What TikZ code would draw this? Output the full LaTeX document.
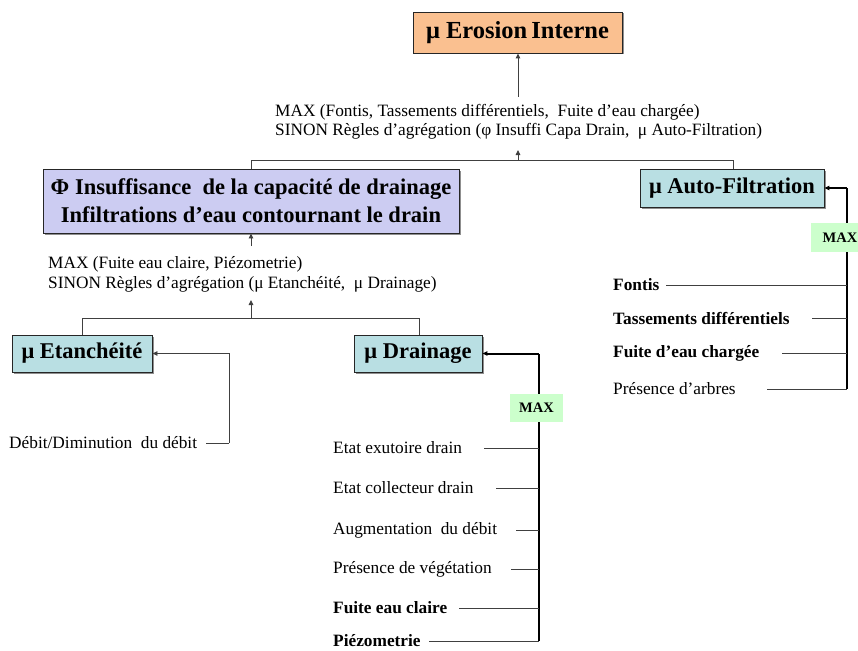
\documentclass[tikz,border=0pt]{standalone}
\usepackage{fontspec}
\setmainfont{Liberation Serif}
\usetikzlibrary{arrows.meta,shadows}
\definecolor{peach}{HTML}{FAC090}
\definecolor{lavender}{HTML}{CCCCF2}
\definecolor{aqua}{HTML}{B9DFE3}
\definecolor{mint}{HTML}{CCFFCC}
\definecolor{linegray}{HTML}{404040}
\tikzset{
  boxnode/.style={draw=black!85, line width=0.9pt, inner sep=0pt, align=center,
    drop shadow={shadow xshift=1.5pt, shadow yshift=-1.5pt, fill=black!55, opacity=0.8}},
  bigfont/.style={font=\fontsize{22.5}{28}\selectfont\bfseries},
  txt/.style={anchor=west, inner sep=0pt, font=\fontsize{17.3}{19.5}\selectfont, align=left},
  btxt/.style={anchor=west, inner sep=0pt, font=\fontsize{17.3}{19.5}\selectfont\bfseries},
  maxbox/.style={fill=mint, inner sep=0pt, font=\fontsize{14.5}{16}\selectfont\bfseries},
  thin/.style={draw=linegray, line width=0.9pt},
  thick/.style={draw=black, line width=2.4pt},
  arr/.style={-{Triangle[length=5pt,width=4.5pt]}},
}
\begin{document}
\begin{tikzpicture}[x=1pt,y=-1pt]
\useasboundingbox (0,0) rectangle (858,650);
\clip (0,0) rectangle (858,650);
\fill[white] (0,0) rectangle (858,650);

% boxes
\node[boxnode, fill=peach, minimum width=209pt, minimum height=41pt,
  font=\fontsize{24.5}{28}\selectfont\bfseries] (ero) at (517.5,32.5) {μ Erosion\,Interne};
\node[boxnode, bigfont, fill=lavender, minimum width=416pt, minimum height=64pt] (phi) at (251,201)
  {Φ Insuffisance\ \ de la capacité de drainage\\Infiltrations d’eau contournant le drain};
\node[boxnode, bigfont, fill=aqua, minimum width=184pt, minimum height=38pt] (auto) at (732,188) {μ Auto-Filtration};
\node[boxnode, bigfont, fill=aqua, minimum width=140pt, minimum height=37pt] (etan) at (82,353.5) {μ Etanchéité};
\node[boxnode, bigfont, fill=aqua, minimum width=128pt, minimum height=37pt] (drain) at (418,353.5) {μ Drainage};

% aggregation texts
\node[txt] (agg1) at (275,122) {MAX (Fontis, Tassements différentiels,\ \ Fuite d’eau chargée)\\SINON Règles d’agrégation (φ Insuffi Capa Drain,\ \ μ Auto-Filtration)};
\node[txt] (agg2) at (48,274.5) {MAX (Fuite eau claire, Piézometrie)\\SINON Règles d’agrégation (μ Etanchéité,\ \ μ Drainage)};

% top-level connectors
\coordinate (a1) at (518,97);
\draw[thin,arr] (a1) -- (ero.south -| a1);
\coordinate (j1) at (518,160);
\coordinate (j1t) at (518,150);
\draw[thin,arr] (j1) -- (j1t);
\coordinate (l1) at (251,160);
\coordinate (r1) at (733,160);
\draw[thin] (phi.north -| l1) -- (l1) -- (r1) -- (auto.north -| r1);

% second-level connectors
\coordinate (a2) at (251,246);
\draw[thin,arr] (a2) -- (phi.south);
\coordinate (j2) at (251,318);
\coordinate (j2t) at (251,300);
\draw[thin,arr] (j2) -- (j2t);
\coordinate (l2) at (82,318);
\coordinate (r2) at (419,318);
\draw[thin] (etan.north -| l2) -- (l2) -- (r2) -- (drain.north -| r2);

% Etancheite input
\node[txt] (debit) at (9,443) {Débit/Diminution\ \ du débit};
\coordinate (ds) at (206,443);
\coordinate (ec) at (229,443);
\coordinate (ec2) at (229,353.5);
\draw[thin] (ds) -- (ec);
\draw[thin,arr] (ec) -- (ec2) -- (etan.east);

% Auto-filtration inputs
\coordinate (av) at (847,188);
\coordinate (avb) at (847,389);
\draw[thick] (avb) -- (av);
\draw[thick,line width=2pt,arr] (av) -- (auto.east);
\node[maxbox, minimum width=58pt, minimum height=29pt] (max1) at (840,237.5) {MAX};
\node[btxt] (fontis) at (613,285) {Fontis};
\node[btxt] (tass) at (613,318) {Tassements différentiels};
\node[btxt] (fuite) at (613,353) {Fuite d’eau chargée};
\node[txt] (arbres) at (613,389) {Présence d’arbres};
\coordinate (f1) at (666,285);
\coordinate (f2) at (812,318);
\coordinate (f3) at (782,353);
\coordinate (f4) at (767,389);
\draw[thin] (f1) -- (f1 -| av);
\draw[thin] (f2) -- (f2 -| av);
\draw[thin] (f3) -- (f3 -| av);
\draw[thin] (f4) -- (f4 -| av);

% Drainage inputs
\coordinate (dv) at (539,353.5);
\coordinate (dm) at (539,569);
\coordinate (db) at (539,641);
\draw[thick] (dm) -- (dv);
\draw[thin,line width=1.4pt,draw=black] (db) -- (dm);
\draw[thick,line width=2pt,arr] (dv) -- (drain.east);
\node[maxbox, minimum width=53pt, minimum height=28pt] (max2) at (536.5,408) {MAX};
\node[txt] (d1) at (333,448) {Etat exutoire drain};
\node[txt] (d2) at (333,488) {Etat collecteur drain};
\node[txt] (d3) at (333,530) {Augmentation\ \ du débit};
\node[txt] (d4) at (333,569) {Présence de végétation};
\node[btxt] (d5) at (333,608) {Fuite eau claire};
\node[btxt] (d6) at (333,641) {Piézometrie};
\coordinate (s1) at (484,448);
\coordinate (s2) at (496,488);
\coordinate (s3) at (516,530);
\coordinate (s4) at (511,569);
\coordinate (s5) at (459,608);
\coordinate (s6) at (429,641);
\draw[thin] (s1) -- (s1 -| dv);
\draw[thin] (s2) -- (s2 -| dv);
\draw[thin] (s3) -- (s3 -| dv);
\draw[thin] (s4) -- (s4 -| dv);
\draw[thin] (s5) -- (s5 -| dv);
\draw[thin] (s6) -- (s6 -| dv);
\end{tikzpicture}
\end{document}
